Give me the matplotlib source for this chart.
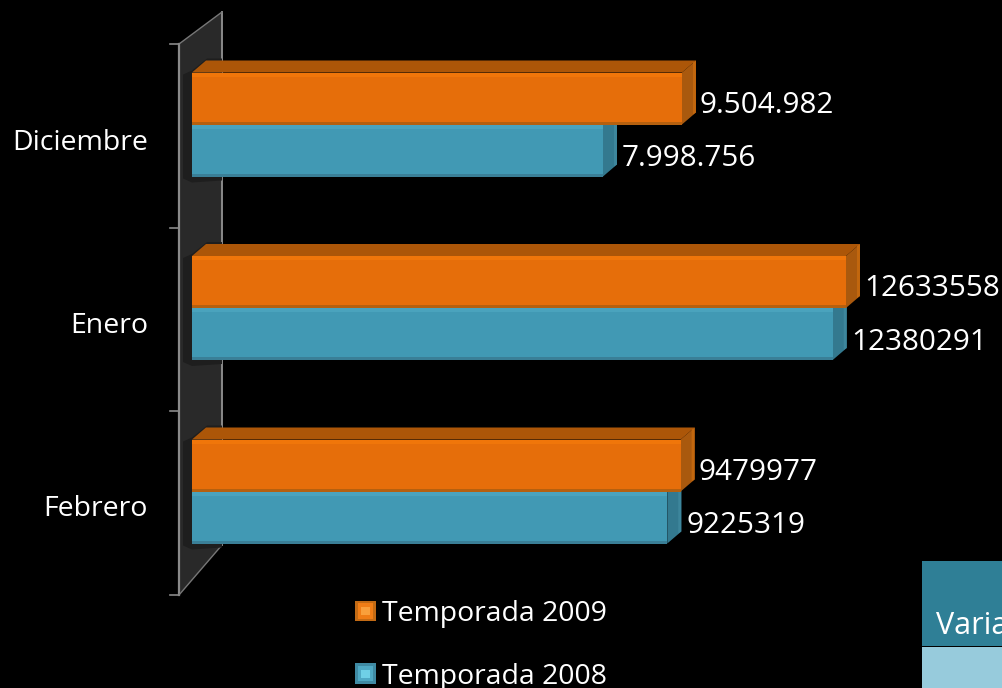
import matplotlib
matplotlib.use("Agg")
import matplotlib.pyplot as plt
from matplotlib.patches import Polygon, Rectangle, Patch
from matplotlib.legend_handler import HandlerBase

categories = ["Diciembre", "Enero", "Febrero"]
values_2009 = [9504982, 12633558, 9479977]
values_2008 = [7998756, 12380291, 9225319]
labels_2009 = ["9.504.982", "12633558", "9479977"]
labels_2008 = ["7.998.756", "12380291", "9225319"]
series_names = ["Temporada 2009", "Temporada 2008"]

W, H = 1002, 688
FONT = "Open Sans"
K = 5.243e-5        # px per unit
ZERO_PX = 183.6
STEP = 183.5
Y0_PX = 124.5

fig = plt.figure(figsize=(W / 100, H / 100), dpi=100, facecolor="black")
ax = fig.add_axes([0, 0, 1, 1], facecolor="black")
ax.set_xlim(-ZERO_PX / K, (W - ZERO_PX) / K)
ax.set_ylim((H - Y0_PX) / STEP, -Y0_PX / STEP)
ax.axis("off")


def X(px):
    return (px - ZERO_PX) / K


def Y(px):
    return (px - Y0_PX) / STEP


def dx(px):
    return px / K


def dy(px):
    return px / STEP


def poly(points, **kw):
    ax.add_patch(Polygon([(X(a), Y(b)) for a, b in points], closed=True, **kw))


# Wall
poly([(179, 44), (222, 12), (222, 545), (179, 595)], facecolor="#292929", edgecolor="none", zorder=1)
ax.plot([X(179), X(179)], [Y(44), Y(595)], color="#8a8a8a", lw=1.6, zorder=2)
ax.plot([X(222), X(222)], [Y(12), Y(545)], color="#8a8a8a", lw=1.4, zorder=2)
ax.plot([X(179), X(222)], [Y(44), Y(12)], color="#777777", lw=1.0, zorder=2)
ax.plot([X(179), X(222)], [Y(595), Y(545)], color="#777777", lw=1.0, zorder=2)
for t in [44, 228, 411, 595]:
    ax.plot([X(170), X(179)], [Y(t), Y(t)], color="#8a8a8a", lw=1.2, zorder=2)

BASE = X(192)
DEPTH_X, DEPTH_Y = 14, 12
BAR_H = 52 / STEP


def bar3d(value, y_top, main, light, dark, top_c, side_c, side_l, z):
    """Front face spans y_top..y_top+BAR_H, value read through the x scale."""
    ax.barh(y_top + BAR_H / 2, value - BASE, left=BASE, height=BAR_H, color=main, zorder=z + 1)
    ax.barh(y_top + dy(2), value - BASE, left=BASE, height=dy(4), color=light, zorder=z + 2)
    ax.barh(y_top + BAR_H - dy(1.5), value - BASE, left=BASE, height=dy(3), color=dark, zorder=z + 2)
    xl, xr = BASE, value
    yt, yb = y_top, y_top + BAR_H
    ax.add_patch(Polygon([(xl, yt), (xl + dx(DEPTH_X), yt - dy(DEPTH_Y)),
                          (xr + dx(DEPTH_X), yt - dy(DEPTH_Y)), (xr, yt)],
                         facecolor=top_c, edgecolor="none", zorder=z))
    ax.add_patch(Polygon([(xr, yt), (xr + dx(DEPTH_X), yt - dy(DEPTH_Y)),
                          (xr + dx(DEPTH_X), yb - dy(DEPTH_Y)), (xr, yb)],
                         facecolor=side_c, edgecolor="none", zorder=z))
    # lighter outer rim of the side face
    ax.add_patch(Polygon([(xr + dx(DEPTH_X - 3), yt - dy(DEPTH_Y - 2)), (xr + dx(DEPTH_X), yt - dy(DEPTH_Y)),
                          (xr + dx(DEPTH_X), yb - dy(DEPTH_Y)), (xr + dx(DEPTH_X - 3), yb - dy(DEPTH_Y - 2))],
                         facecolor=side_l, edgecolor="none", zorder=z + 0.5))


for i, cat in enumerate(categories):
    yc = float(i)
    c = Y0_PX + STEP * i
    # soft shadow on the wall
    poly([(183, c - 50), (192, c - 54), (207, c - 66), (222, c - 66),
          (222, c + 56), (192, c + 58), (183, c + 54)],
         facecolor="#1e1e1e", edgecolor="none", zorder=2)
    bar3d(values_2008[i], yc, "#4199b4", "#4aa3bd", "#3a7f97", "#33768c", "#33798f", "#3d869c", 3)
    bar3d(values_2009[i], yc - BAR_H, "#e66e0a", "#f0760a", "#b5600f", "#ac5608", "#a9590e", "#c2670e", 7)
    ax.text(values_2009[i] + dx(18), yc - dy(19), labels_2009[i], color="white",
            fontsize=21.3, family=FONT, va="center", ha="left", zorder=12)
    ax.text(values_2008[i] + dx(19), yc + dy(34), labels_2008[i], color="white",
            fontsize=21.3, family=FONT, va="center", ha="left", zorder=12)
    ax.text(X(148), yc + dy(18), cat, color="white", fontsize=20.5, family=FONT,
            va="center", ha="right", zorder=12)

# Table fragment at the bottom right
ax.add_patch(Rectangle((X(922), Y(561)), dx(80), dy(85), facecolor="#2f7f96", edgecolor="none", zorder=1))
ax.add_patch(Rectangle((X(922), Y(647)), dx(80), dy(41), facecolor="#97cbdc", edgecolor="none", zorder=1))
ax.text(X(936), Y(626), "Varia", color="white", fontsize=22, family=FONT, va="center", ha="left",
        clip_on=True, zorder=3)


class GemHandler(HandlerBase):
    """Legend key: a square with a darker rim and a lighter centre."""

    def __init__(self, rim, body, glow):
        super().__init__()
        self.rim, self.body, self.glow = rim, body, glow

    def create_artists(self, legend, orig_handle, xd, yd, w, h, fontsize, trans):
        x0, y0 = -xd, -yd
        out = []
        for frac, col in [(0.0, self.rim), (0.12, self.body), (0.3, self.glow)]:
            out.append(Rectangle((x0 + w * frac, y0 + h * frac), w * (1 - 2 * frac), h * (1 - 2 * frac),
                                 facecolor=col, edgecolor="none", transform=trans))
        return out


handles = [Patch(label=series_names[0]), Patch(label=series_names[1])]
leg = ax.legend(handles=handles, loc="upper left", bbox_to_anchor=(355 / W, 1 - 600 / H),
                bbox_transform=fig.transFigure, frameon=False, borderaxespad=0, borderpad=0,
                handlelength=0.74, handleheight=0.74, handletextpad=0.22, labelspacing=1.22,
                handler_map={handles[0]: GemHandler("#c26a14", "#ef7d16", "#f9a03c"),
                             handles[1]: GemHandler("#3f8aa3", "#4fa9c4", "#6fd0e6")},
                prop={"family": FONT, "size": 20.4}, labelcolor="white")
leg.set_zorder(20)

fig.savefig("out.png", dpi=100, facecolor="black")
